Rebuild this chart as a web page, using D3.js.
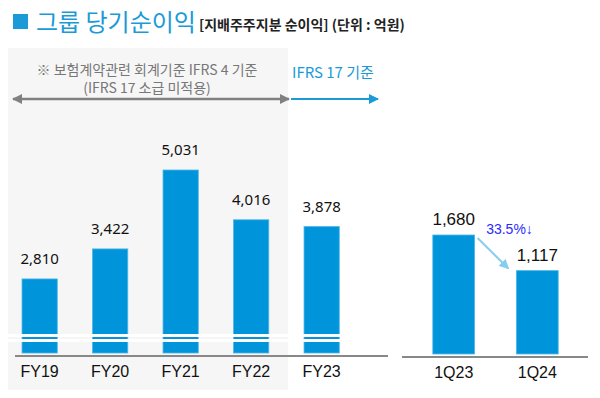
<!DOCTYPE html>
<html>
<head>
<meta charset="utf-8">
<script src="https://cdn.jsdelivr.net/npm/d3@7"></script>
<style>
  body { margin: 0; background: #fff; }
  svg { display: block; }
</style>
</head>
<body>
<svg id="chart" width="600" height="398"></svg>
<script>
//  data
const yearCats = ["FY19", "FY20", "FY21", "FY22", "FY23"];
const yearVals = [2810, 3422, 5031, 4016, 3878];
const quarterCats = ["1Q23", "1Q24"];
const quarterVals = [1680, 1117];
const changeLabel = "33.5%↓";

const titleMain = "그룹 당기순이익";
const titleSub = "[지배주주지분 순이익] (단위 : 억원)";
const noteLines = ["※ 보험계약관련 회계기준 IFRS 4 기준", "(IFRS 17 소급 미적용)"];
const ifrs17Label = "IFRS 17 기준";

//  broken axis bases (bars do not start at 0)
const yearBase = 1300;
const quarterBase = -200;

const BLUE = "#0095da";
const KR = "'Noto Sans CJK KR', 'Noto Sans', sans-serif";
const NUM = "'Liberation Sans', Arial, sans-serif";

const svg = d3.select("#chart");
const baseY = 353;

//  scales
const xL = d3.scaleBand().domain(yearCats).range([4.4, 356.9]).paddingInner(0.5).paddingOuter(0.25);
const yL = d3.scaleLinear().domain([yearBase, d3.max(yearVals)]).range([baseY, 170]);
const xR = d3.scaleBand().domain(quarterCats).range([391, 600]).paddingInner(0.5).paddingOuter(0.5);
const yR = d3.scaleLinear().domain([quarterBase, d3.max(quarterVals)]).range([baseY + 1, 235]);

//  arrow markers
const defs = svg.append("defs");
function marker(id, color, orient) {
  defs.append("marker")
      .attr("id", id)
      .attr("viewBox", "0 0 10 10")
      .attr("refX", 9).attr("refY", 5)
      .attr("markerWidth", 10).attr("markerHeight", 10)
      .attr("markerUnits", "userSpaceOnUse")
      .attr("orient", orient)
    .append("path")
      .attr("d", "M0,0L10,5L0,10Z")
      .attr("fill", color);
}
marker("ahGray", "#808080", "auto-start-reverse");
marker("ahBlue", "#1a9bd7", "auto");
marker("ahLight", "#86cdee", "auto");

//  title
svg.append("rect").attr("x", 13).attr("y", 14).attr("width", 15).attr("height", 15).attr("fill", "#1a9bd7");
const t1 = svg.append("text")
   .attr("x", 36).attr("y", 31)
   .style("font-family", KR).style("font-size", "24px")
   .attr("fill", "#1a9bd7")
   .text(titleMain);
svg.append("text")
   .attr("x", 36 + t1.node().getComputedTextLength() + 3).attr("y", 30)
   .style("font-family", KR).style("font-size", "14px").style("font-weight", "bold")
   .attr("fill", "#222")
   .text(titleSub);

//  IFRS 4 shaded zone
svg.append("rect")
   .attr("x", 8).attr("y", 48).attr("width", 280).attr("height", 342)
   .attr("fill", "#f6f6f6");

svg.selectAll("text.note")
   .data(noteLines)
   .enter().append("text")
   .attr("class", "note")
   .attr("x", 147).attr("y", (d, i) => 75 + i * 18)
   .attr("text-anchor", "middle")
   .style("font-family", KR).style("font-size", "14px")
   .attr("fill", "#777")
   .text(d => d);

svg.append("line")
   .attr("x1", 13).attr("x2", 289).attr("y1", 99).attr("y2", 99)
   .attr("stroke", "#808080").attr("stroke-width", 2.5)
   .attr("marker-start", "url(#ahGray)").attr("marker-end", "url(#ahGray)");

svg.append("text")
   .attr("x", 292).attr("y", 78)
   .style("font-family", KR).style("font-size", "15px")
   .attr("fill", "#1a9bd7")
   .text(ifrs17Label);
svg.append("line")
   .attr("x1", 291).attr("x2", 378).attr("y1", 99).attr("y2", 99)
   .attr("stroke", "#1a9bd7").attr("stroke-width", 2)
   .attr("marker-end", "url(#ahBlue)");

//  yearly bars
svg.selectAll("rect.year")
   .data(yearVals)
   .enter().append("rect")
   .attr("class", "year")
   .attr("x", (d, i) => xL(yearCats[i]))
   .attr("y", d => yL(d))
   .attr("width", xL.bandwidth())
   .attr("height", d => baseY - yL(d))
   .attr("fill", BLUE)
   .attr("stroke", "#4fb6e8").attr("stroke-width", 0.8);

//  axis break stripes
[334, 339].forEach(y => {
  svg.append("rect")
     .attr("x", 8).attr("y", y)
     .attr("width", xL(yearCats[4]) + xL.bandwidth() + 1 - 8).attr("height", 3)
     .attr("fill", "#fff");
});

svg.selectAll("text.yearVal")
   .data(yearVals)
   .enter().append("text")
   .attr("class", "yearVal")
   .attr("x", (d, i) => xL(yearCats[i]) + xL.bandwidth() / 2)
   .attr("y", d => yL(d) - 15)
   .attr("text-anchor", "middle")
   .style("font-family", "'Noto Sans', sans-serif").style("font-size", "15px")
   .attr("fill", "#111")
   .text(d3.format(","));

//  quarterly bars
svg.selectAll("rect.quarter")
   .data(quarterVals)
   .enter().append("rect")
   .attr("class", "quarter")
   .attr("x", (d, i) => xR(quarterCats[i]))
   .attr("y", d => yR(d))
   .attr("width", xR.bandwidth())
   .attr("height", d => baseY + 1 - yR(d))
   .attr("fill", BLUE)
   .attr("stroke", "#4fb6e8").attr("stroke-width", 0.8);

svg.selectAll("text.quarterVal")
   .data(quarterVals)
   .enter().append("text")
   .attr("class", "quarterVal")
   .attr("x", (d, i) => xR(quarterCats[i]) + xR.bandwidth() / 2)
   .attr("y", d => yR(d) - 10)
   .attr("text-anchor", "middle")
   .style("font-family", NUM).style("font-size", "17px")
   .attr("fill", "#111")
   .text(d3.format(","));

//  change arrow
const q0 = xR(quarterCats[0]) + xR.bandwidth();
const q1 = xR(quarterCats[1]);
svg.append("line")
   .attr("x1", q0 + 3).attr("y1", yR(quarterVals[0]) + 3)
   .attr("x2", q1 - 8).attr("y2", yR(quarterVals[1]) - 2)
   .attr("stroke", "#86cdee").attr("stroke-width", 2)
   .attr("marker-end", "url(#ahLight)");
svg.append("text")
   .attr("x", (q0 + q1) / 2 + 14).attr("y", yR(quarterVals[0]) - 1)
   .attr("text-anchor", "middle")
   .style("font-family", NUM).style("font-size", "14px")
   .attr("fill", "#2a2aff")
   .text(changeLabel);

//  axes
const axisL = svg.append("g")
   .attr("transform", `translate(0,${baseY + 3})`)
   .call(d3.axisBottom(xL).tickSize(0).tickPadding(10));
axisL.select(".domain").attr("d", "M15,0H388").attr("stroke", "#888").attr("stroke-width", 2);

const axisR = svg.append("g")
   .attr("transform", `translate(0,${baseY + 4})`)
   .call(d3.axisBottom(xR).tickSize(0).tickPadding(10));
axisR.select(".domain").attr("d", "M402,0H588").attr("stroke", "#888").attr("stroke-width", 2);

svg.selectAll(".tick text")
   .style("font-family", NUM).style("font-size", "16px")
   .attr("fill", "#111");
</script>
</body>
</html>
